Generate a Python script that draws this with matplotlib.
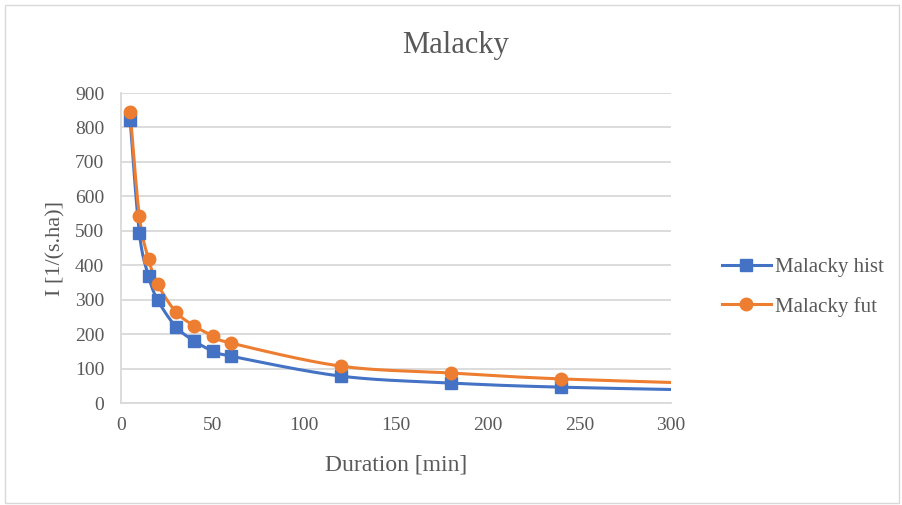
import numpy as np
import matplotlib
matplotlib.use("Agg")
import matplotlib.pyplot as plt
from matplotlib.patches import Rectangle

plt.rcParams['font.family'] = ['Liberation Serif', 'DejaVu Serif']

duration = [5, 10, 15, 20, 30, 40, 50, 60, 120, 180, 240, 360]
hist = [822, 494, 369, 299, 221, 180, 151, 136, 78, 58, 46, 33]
fut = [845, 543, 418, 345, 264, 224, 195, 174, 107, 87, 70, 50]
series_names = ["Malacky hist", "Malacky fut"]
colors = ["#4472C4", "#ED7D31"]
markers = ["s", "o"]
xticks = [0, 50, 100, 150, 200, 250, 300]
yticks = [0, 100, 200, 300, 400, 500, 600, 700, 800, 900]


def smooth(x, y, n=40, tension=0.5):
    """Catmull-Rom style smoothing between consecutive points."""
    x = np.asarray(x, float)
    y = np.asarray(y, float)
    px = np.concatenate([[x[0]], x, [x[-1]]])
    py = np.concatenate([[y[0]], y, [y[-1]]])
    xs, ys = [], []
    for i in range(1, len(px) - 2):
        p0 = np.array([px[i - 1], py[i - 1]])
        p1 = np.array([px[i], py[i]])
        p2 = np.array([px[i + 1], py[i + 1]])
        p3 = np.array([px[i + 2], py[i + 2]])
        c1 = p1 + (p2 - p0) * tension / 3
        c2 = p2 - (p3 - p1) * tension / 3
        t = np.linspace(0, 1, n)[:, None]
        pts = ((1 - t) ** 3) * p1 + 3 * ((1 - t) ** 2) * t * c1 + 3 * (1 - t) * t ** 2 * c2 + t ** 3 * p2
        xs.extend(pts[:, 0])
        ys.extend(pts[:, 1])
    return np.array(xs), np.array(ys)


fig = plt.figure(figsize=(9.02, 5.05), dpi=100)
ax = fig.add_axes([121 / 902, 1 - 403 / 505, 550 / 902, 310 / 505])

fig.patches.append(Rectangle((5 / 902, 2 / 505), 894 / 902, 498 / 505, transform=fig.transFigure,
                             fill=False, edgecolor="#D9D9D9", linewidth=1.0))

handles = []
for vals, name, c, m in zip([hist, fut], series_names, colors, markers):
    sx, sy = smooth(duration, vals)
    ax.plot(sx, sy, color=c, linewidth=2.2, zorder=3, clip_on=True)
    ax.plot(duration, vals, linestyle="none", marker=m, markersize=9, color=c, zorder=4)
    h, = ax.plot([], [], color=c, linewidth=2.2, marker=m, markersize=9, label=name)
    handles.append(h)

ax.set_xlim(0, 300)
ax.set_ylim(0, 900)
ax.set_xticks(xticks)
ax.set_yticks(yticks)
ax.tick_params(length=0, labelsize=14, labelcolor="#595959")
ax.tick_params(axis="y", pad=12)
ax.tick_params(axis="x", pad=10)
ax.grid(axis="y", color="#D9D9D9", linewidth=1.3)
ax.set_axisbelow(True)
for s in ["top", "right"]:
    ax.spines[s].set_visible(False)
ax.spines["left"].set_color("#D9D9D9")
ax.spines["bottom"].set_color("#D9D9D9")
ax.spines["left"].set_linewidth(1.3)
ax.spines["bottom"].set_linewidth(1.3)

ax.set_xlabel("Duration [min]", fontsize=17, color="#595959", labelpad=15)
ax.set_ylabel("I [1/(s.ha)]", fontsize=16, color="#595959", labelpad=7)
fig.text(456 / 902, 1 - 46 / 505, "Malacky", ha="center", va="center", fontsize=22, color="#595959")

fig.legend(handles=handles, loc="center left", bbox_to_anchor=(703 / 902, 1 - 287 / 505),
           frameon=False, fontsize=15, labelcolor="#595959", handlelength=2.35,
           labelspacing=0.95, handletextpad=0.2)

fig.savefig("out.png", dpi=100)
